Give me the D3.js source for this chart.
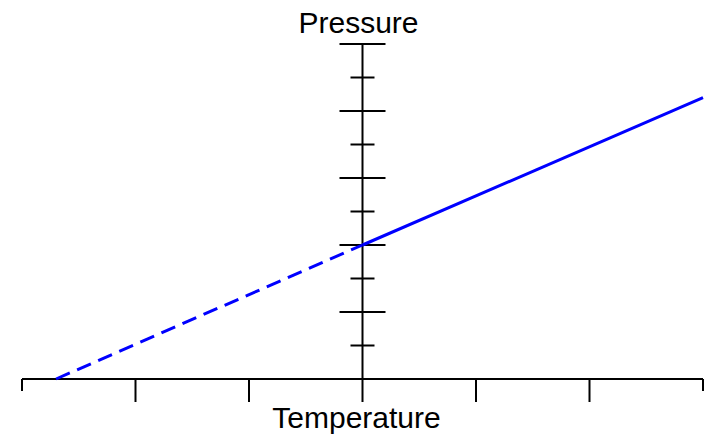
<!DOCTYPE html>
<html>
<head>
<meta charset="utf-8">
<title>Pressure vs Temperature</title>
<script src="https://cdn.jsdelivr.net/npm/d3@7"></script>
<style>
  body { margin: 0; background: #fff; }
  text { font-family: "Liberation Sans", Arial, sans-serif; }
</style>
</head>
<body>
<script>
// temperature ticks along the bottom, pressure ticks up the middle
var tempTicks = [-300, -200, -100, 0, 100, 200, 300];
var pressureTicks = [1, 2, 3, 4, 5, 6, 7, 8, 9, 10];
// extrapolated part (dashed) and measured part (solid)
var extrapolated = [{t: -270, p: 0}, {t: 0, p: 4}];
var measured = [{t: 0, p: 4}, {t: 300, p: 8.4}];

var width = 709, height = 436;

var svg = d3.select("body").append("svg")
    .attr("width", width)
    .attr("height", height);

var x = d3.scaleLinear().domain([-300, 300]).range([22, 703]);
var y = d3.scaleLinear().domain([0, 10]).range([379, 44]);

var axes = svg.append("g")
    .attr("stroke", "#000")
    .attr("stroke-width", 2);

// horizontal axis
axes.append("line")
    .attr("x1", x(-300)).attr("x2", x(300))
    .attr("y1", y(0)).attr("y2", y(0));

// ticks below: short at the ends, long elsewhere
axes.selectAll(".xtick")
    .data(tempTicks.filter(function(d) { return d !== 0; }))
    .enter().append("line")
    .attr("class", "xtick")
    .attr("x1", function(d) { return x(d); })
    .attr("x2", function(d) { return x(d); })
    .attr("y1", y(0))
    .attr("y2", function(d) { return y(0) + (Math.abs(d) === 300 ? 12 : 23); });

// vertical axis, runs down past the horizontal one like a tick
axes.append("line")
    .attr("x1", x(0)).attr("x2", x(0))
    .attr("y1", y(10)).attr("y2", y(0) + 23);

// cross ticks: wide on even values, narrow on odd
axes.selectAll(".ytick")
    .data(pressureTicks)
    .enter().append("line")
    .attr("class", "ytick")
    .attr("x1", function(d) { return x(0) - (d % 2 === 0 ? 23 : 12); })
    .attr("x2", function(d) { return x(0) + (d % 2 === 0 ? 23 : 12); })
    .attr("y1", function(d) { return y(d); })
    .attr("y2", function(d) { return y(d); });

var line = d3.line()
    .x(function(d) { return x(d.t); })
    .y(function(d) { return y(d.p); });

svg.append("path")
    .datum(extrapolated)
    .attr("d", line)
    .attr("fill", "none")
    .attr("stroke", "#0000ff")
    .attr("stroke-width", 3)
    .attr("stroke-dasharray", "15,8");

svg.append("path")
    .datum(measured)
    .attr("d", line)
    .attr("fill", "none")
    .attr("stroke", "#0000ff")
    .attr("stroke-width", 3);

svg.append("text")
    .attr("x", x(0) - 4)
    .attr("y", 33)
    .attr("text-anchor", "middle")
    .attr("font-size", "30px")
    .text("Pressure");

svg.append("text")
    .attr("x", x(0) - 6)
    .attr("y", 428)
    .attr("text-anchor", "middle")
    .attr("font-size", "30px")
    .text("Temperature");
</script>
</body>
</html>
